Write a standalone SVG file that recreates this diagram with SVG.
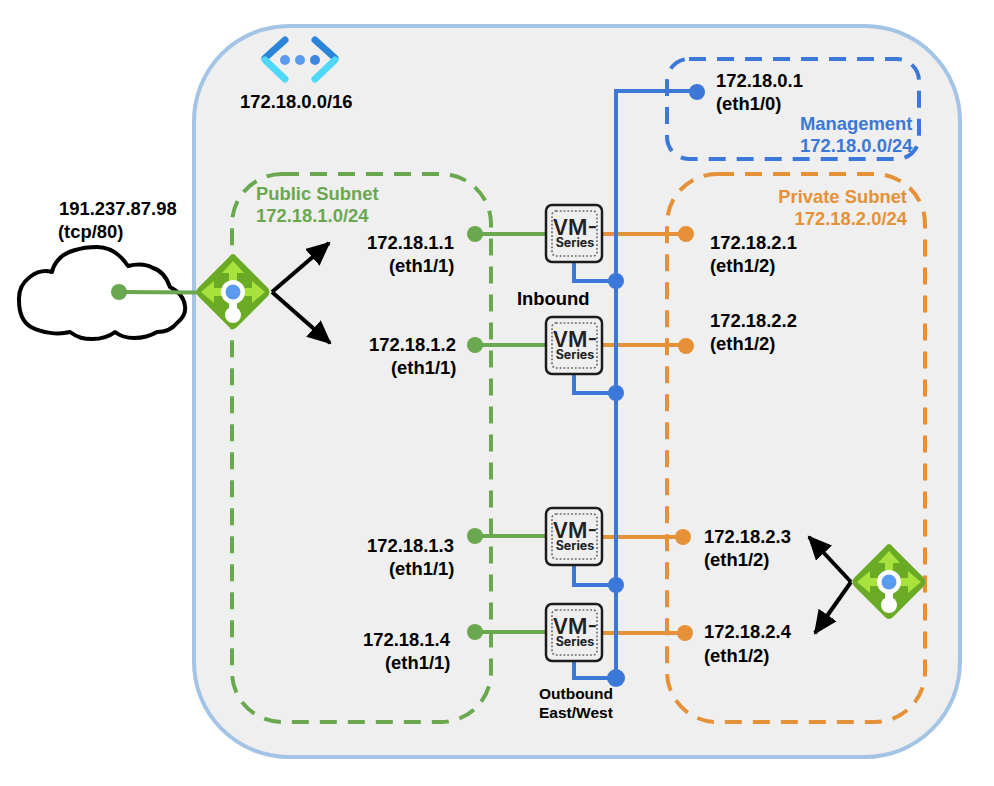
<svg xmlns="http://www.w3.org/2000/svg" width="994" height="786" viewBox="0 0 994 786">
<style>
text{font-family:"Liberation Sans",Arial,sans-serif;font-weight:700;font-size:18.4px;fill:#000}
.g{fill:#6aa84f}.o{fill:#e69138}.b{fill:#3c78d8}
.subnet{fill:none;stroke-width:4;stroke-dasharray:17 11}
.gl{stroke:#6aa84f;stroke-width:4;fill:none}.ol{stroke:#e69138;stroke-width:4;fill:none}.bl{stroke:#3c78d8;stroke-width:4;fill:none}
.arrow{stroke:#000;stroke-width:4;fill:none;marker-end:url(#ah)}
.vmt{fill:#222;font-family:"Inter","Liberation Sans",sans-serif;text-anchor:middle}
</style>
<defs>
<marker id="ah" markerUnits="userSpaceOnUse" markerWidth="30" markerHeight="30" refX="22" refY="11" orient="auto"><path d="M0 0L24 11L0 22Z" fill="#000"/></marker>
<g id="vm">
<rect x="1" y="1" width="56" height="57" rx="6" fill="#efefef" stroke="#1c1c1c" stroke-width="2.5"/>
<rect x="7" y="7" width="45" height="45" rx="4" fill="none" stroke="#666" stroke-width="1.6" stroke-dasharray="1.8 2"/>
<text class="vmt" x="30" y="31" style="font-size:21px;font-weight:600">VM-</text>
<text class="vmt" x="30" y="43" style="font-size:12.5px;font-weight:700">Series</text>
</g>
<g id="lb">
<path d="M0-38Q2-38 4-35L35-4Q38 0 35 4L4 35Q0 39-4 35L-35 4Q-38 0-35-4L-4-35Q-2-38 0-38Z" fill="#6aaa25"/>
<path d="M0-31L11-19H4V-8H-4V-19H-11ZM-32 0L-19-11V-4H-8V4H-19V11ZM32 0L19-11V-4H8V4H19V11Z" fill="#a8e23c"/>
<rect x="-4" y="8" width="8" height="16" fill="#fff"/>
<circle cx="0" cy="23" r="8" fill="#fff"/>
<circle cx="0" cy="0" r="12" fill="#fff"/>
<circle cx="0" cy="0" r="7.5" fill="#5a9bf0"/>
</g>
</defs>
<rect width="994" height="786" fill="#fff"/>
<g id="vnet">
<rect x="194" y="26" width="766" height="731" rx="95" fill="#efefef" stroke="#a4c4e6" stroke-width="4"/>
<g id="vnet-icon" fill="none" stroke-width="7" stroke-linecap="round">
<path d="M285 40L265 58" stroke="#2a85d8"/>
<path d="M265 60L285 79" stroke="#50d8f8"/>
<path d="M315 40L335 58" stroke="#2a85d8"/>
<path d="M335 60L315 79" stroke="#50d8f8"/>
<circle cx="285" cy="60" r="5" fill="#5a9bf0" stroke="none"/><circle cx="300" cy="60" r="5" fill="#5a9bf0" stroke="none"/><circle cx="315" cy="60" r="5" fill="#3f85e0" stroke="none"/>
</g>
<text x="240" y="108">172.18.0.0/16</text>
</g>
<g id="public-subnet">
<rect class="subnet" x="232" y="174" width="259" height="548" rx="50" stroke="#6aa84f"/>
<text class="g" x="256" y="200">Public Subnet</text>
<text class="g" x="256" y="222">172.18.1.0/24</text>
</g>
<g id="private-subnet">
<rect class="subnet" x="667" y="174" width="258" height="548" rx="50" stroke="#e69138"/>
<text class="o" x="907" y="203" text-anchor="end">Private Subnet</text>
<text class="o" x="907" y="225" text-anchor="end">172.18.2.0/24</text>
</g>
<g id="management-subnet">
<rect class="subnet" x="667" y="59" width="252" height="100" rx="22" stroke="#3c78d8"/>
<text class="b" x="800" y="130">Management</text>
<text class="b" x="800" y="152">172.18.0.0/24</text>
</g>
<g id="internet">
<path d="M52 272C38 268 18 280 19 300C19 314 24 323 31 327C42 333 58 335 70 332C78 338 84 339 92 339C102 339 110 336 115 332C120 336 126 338 134 338C144 338 152 335 157 332C166 332 173 328 177 323C183 318 186 312 185 306C184 298 178 291 170 287C166 276 160 270 153 268C146 264 136 264 128 266C120 254 110 247 97 247C80 247 66 252 60 258C56 262 53 267 52 272Z" fill="#fff" stroke="#000" stroke-width="4" stroke-linejoin="round"/>
<text x="59" y="215">191.237.87.98</text>
<text x="58" y="238">(tcp/80)</text>
</g>
<g id="connectors">
<path class="gl" d="M119 292L200 292.500"/>
<path class="gl" d="M475 234H547M475 345H547M475 536H547M475 632H547"/>
<path class="ol" d="M603 234H686M603 345H686M603 537H683M603 633H685"/>
<path class="bl" d="M695 91L616 91V678M574 262V281H616M574 374V393H616M574 565V585H616M574 661V678H616"/>
<g class="g"><circle cx="119" cy="292" r="8"/><circle cx="475" cy="234" r="8"/><circle cx="475" cy="345" r="8"/><circle cx="475" cy="536" r="8"/><circle cx="475" cy="632" r="8"/></g>
<g class="o"><circle cx="686" cy="234" r="8"/><circle cx="686" cy="346" r="8"/><circle cx="683" cy="537" r="8"/><circle cx="685" cy="633" r="8"/></g>
<g class="b"><circle cx="697" cy="92" r="8"/><circle cx="616" cy="281" r="8"/><circle cx="616" cy="393" r="8"/><circle cx="616" cy="585" r="8"/><circle cx="616" cy="678" r="9"/></g>
<path class="arrow" d="M272 292L329 243"/>
<path class="arrow" d="M272 292L330 343"/>
<path class="arrow" d="M851 582L809 537"/>
<path class="arrow" d="M851 582L815 633"/>
</g>
<g id="lb-public"><use href="#lb" x="233" y="292"/></g>
<g id="lb-private"><use href="#lb" x="889" y="582"/></g>
<g id="vm1"><use href="#vm" x="545" y="204"/></g>
<g id="vm2"><use href="#vm" x="545" y="316"/></g>
<g id="vm3"><use href="#vm" x="545" y="507"/></g>
<g id="vm4"><use href="#vm" x="545" y="603"/></g>
<g id="labels">
<text x="716" y="87">172.18.0.1</text><text x="716" y="110">(eth1/0)</text>
<text x="367" y="249">172.18.1.1</text><text x="389" y="272">(eth1/1)</text>
<text x="369" y="351">172.18.1.2</text><text x="391" y="374">(eth1/1)</text>
<text x="367" y="552">172.18.1.3</text><text x="389" y="575">(eth1/1)</text>
<text x="363" y="646">172.18.1.4</text><text x="385" y="669">(eth1/1)</text>
<text x="710" y="249">172.18.2.1</text><text x="710" y="272">(eth1/2)</text>
<text x="710" y="327">172.18.2.2</text><text x="710" y="350">(eth1/2)</text>
<text x="704" y="543">172.18.2.3</text><text x="704" y="566">(eth1/2)</text>
<text x="704" y="638">172.18.2.4</text><text x="704" y="662">(eth1/2)</text>
<text x="517" y="305">Inbound</text>
<text x="539" y="699" style="font-size:15.500px">Outbound</text>
<text x="539" y="718" style="font-size:15.500px">East/West</text>
</g>
</svg>
